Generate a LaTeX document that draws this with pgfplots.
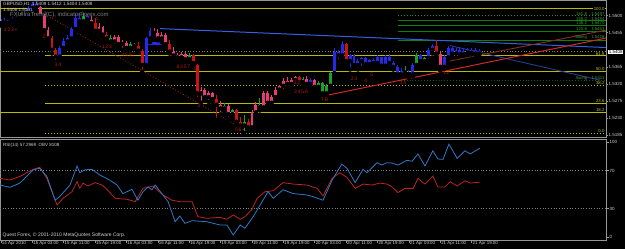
\documentclass[border=0pt]{standalone}
\usepackage{pgfplots}
\pgfplotsset{compat=1.18}
\usepackage{pgfplotstable}
\usepackage{fontspec}
\setmainfont{Liberation Sans}
\definecolor{frame}{RGB}{150,150,150}
\definecolor{fib}{RGB}{185,185,10}
\definecolor{fgreen}{RGB}{10,130,10}
\definecolor{cblue}{RGB}{40,40,235}
\definecolor{cgreen}{RGB}{30,160,40}
\definecolor{cpink}{RGB}{230,60,120}
\definecolor{cred}{RGB}{200,20,20}
\definecolor{tblue}{RGB}{55,95,225}
\definecolor{tnavy}{RGB}{40,60,150}
\definecolor{tred}{RGB}{210,40,40}
\definecolor{tbrown}{RGB}{130,50,30}
\definecolor{rsiblue}{RGB}{50,120,200}
\definecolor{rsired}{RGB}{190,35,35}
\definecolor{txt}{RGB}{210,210,210}
\definecolor{lbl}{RGB}{185,25,25}
\newcommand\tf[1]{\fontsize{#1}{#1}\selectfont}

% candle index, open, high, low, close (price x 10^4), colour class
\pgfplotstableread{
i o h l c k
0 15480 15492 15474 15486 1
1 15486 15494 15478 15482 1
2 15482 15490 15476 15488 1
3 15488 15496 15482 15492 1
4 15492 15500 15485 15497 1
5 15497 15508 15490 15503 2
6 15503 15512 15495 15508 1
7 15508 15525 15502 15520 1
8 15520 15536 15512 15530 1
9 15530 15540 15515 15522 1
10 15522 15526 15495 15500 3
11 15500 15505 15455 15462 3
12 15462 15470 15430 15440 3
13 15440 15446 15400 15410 4
14 15410 15415 15378 15392 4
15 15392 15420 15385 15415 1
16 15415 15440 15408 15432 1
17 15432 15448 15420 15440 1
18 15440 15470 15435 15465 1
19 15465 15505 15458 15495 1
20 15495 15507 15478 15485 1
21 15485 15508 15480 15500 2
22 15500 15505 15482 15490 1
23 15490 15500 15476 15480 3
24 15480 15494 15455 15460 4
25 15460 15480 15455 15470 3
26 15470 15472 15445 15450 3
27 15450 15458 15432 15440 4
28 15440 15448 15425 15432 2
29 15432 15450 15420 15445 3
30 15445 15448 15418 15425 3
31 15425 15436 15410 15428 3
32 15428 15432 15405 15415 3
33 15415 15430 15410 15425 2
34 15425 15428 15412 15420 3
35 15420 15430 15405 15408 4
36 15408 15412 15352 15370 4
37 15370 15445 15365 15440 1
38 15440 15467 15430 15460 1
39 15460 15468 15448 15455 3
40 15455 15465 15435 15440 3
41 15440 15458 15430 15450 3
42 15450 15455 15418 15425 3
43 15425 15435 15400 15405 4
44 15405 15418 15388 15395 3
45 15395 15402 15380 15390 3
46 15390 15405 15385 15400 3
47 15400 15404 15378 15385 3
48 15385 15402 15383 15395 2
49 15395 15398 15370 15375 4
50 15370 15372 15280 15295 4
51 15295 15312 15270 15305 3
52 15305 15310 15275 15285 3
53 15285 15300 15272 15295 3
54 15295 15298 15270 15280 3
55 15280 15290 15225 15265 4
56 15265 15275 15240 15255 3
57 15255 15270 15245 15262 2
58 15262 15268 15228 15240 3
59 15240 15255 15232 15250 2
60 15250 15255 15210 15220 4
61 15220 15232 15200 15210 4
62 15210 15238 15190 15220 2
63 15220 15228 15195 15205 4
64 15205 15250 15200 15245 3
65 15245 15272 15240 15265 3
66 15265 15282 15250 15258 2
67 15258 15300 15255 15295 3
68 15295 15302 15265 15270 3
69 15270 15290 15258 15285 3
70 15285 15312 15278 15305 3
71 15305 15318 15298 15315 3
72 15315 15335 15302 15328 3
73 15328 15338 15310 15320 3
74 15320 15335 15318 15330 3
75 15330 15342 15322 15338 3
76 15338 15340 15320 15325 4
77 15325 15338 15318 15332 2
78 15332 15340 15315 15320 3
79 15320 15336 15312 15330 1
80 15330 15332 15305 15312 3
81 15312 15328 15308 15322 2
82 15322 15326 15285 15295 2
83 15295 15320 15290 15315 2
84 15315 15352 15305 15348 2
85 15348 15415 15345 15405 1
86 15405 15410 15380 15395 1
87 15395 15432 15388 15425 1
88 15425 15428 15372 15380 4
89 15380 15400 15358 15395 1
90 15395 15398 15360 15370 1
91 15370 15385 15358 15380 1
92 15380 15392 15362 15388 1
93 15388 15392 15365 15372 1
94 15372 15385 15365 15382 1
95 15382 15388 15368 15375 1
96 15375 15395 15370 15390 1
97 15390 15392 15362 15368 1
98 15368 15395 15365 15390 1
99 15390 15398 15362 15375 1
100 15375 15380 15358 15365 1
101 15365 15370 15338 15345 1
102 15345 15362 15340 15355 1
103 15355 15368 15345 15350 2
104 15350 15356 15336 15345 1
105 15345 15375 15340 15370 1
106 15370 15402 15365 15395 2
107 15395 15400 15375 15380 1
108 15380 15392 15372 15388 2
109 15388 15415 15380 15410 1
110 15410 15425 15400 15420 1
111 15420 15436 15395 15400 4
112 15400 15405 15355 15365 3
113 15365 15395 15360 15390 1
114 15390 15420 15382 15415 1
115 15415 15418 15395 15400 1
116 15400 15415 15390 15410 1
117 15410 15418 15395 15398 1
118 15398 15412 15395 15408 1
119 15408 15415 15396 15402 1
120 15402 15414 15398 15410 1
121 15410 15415 15396 15400 1
122 15400 15412 15398 15408 1
}\candles

\pgfplotstableread{
i v
-0.25 55
2.3 52.6
4.8 57
8.2 71
9.9 72.6
11.7 64
13.8 39
15.0 43
17.6 55
19.4 75
20.1 68
21.4 71
23.2 71.5
25.2 65.6
27.8 60
29.6 55
31.1 46
33.4 50.5
34.9 39
36.2 48
37.5 53
38.5 50
39.3 55
41.3 44.5
42.6 37.5
44.4 16.4
45.6 22.4
46.9 14.7
48.7 17.5
52.5 16.4
55.8 13
57.6 13
59.2 2.4
61.0 13
62.2 9.5
64.3 21.7
66.8 39
68.1 48
69.4 41
71.9 50
74.5 46
78.0 44.5
79.6 42.7
82.1 39
84.4 60
86.9 77
88.2 72.6
90.3 57.5
92.3 71.5
93.3 68
95.9 78.5
97.1 76
98.4 78.5
99.7 78
101.2 76
103.5 81
104.8 80
106.3 87.7
108.1 75
110.1 91
111.4 82.4
112.7 82
114.2 98
116.3 83
118.3 91
119.6 87.7
122.1 93.7
}\obvdata

\pgfplotstableread{
i v
-0.25 62
2.3 60.3
4.8 64
8.2 71.5
9.9 73.6
11.7 62
14.3 34
15.8 41
18.1 48
19.4 58.5
20.1 51.5
20.9 57
22.2 54
24.0 57.5
25.8 55
27.0 50.5
29.1 41
32.1 40
34.2 37.5
36.2 51.5
37.5 52.6
38.8 54
39.8 50
41.3 44.5
43.6 39
45.6 37.5
48.7 37.5
50.2 21.7
52.5 20
55.8 21
57.6 19
59.2 23.5
61.0 19
62.2 21.7
64.0 29.5
65.3 41
67.3 48
69.4 49
71.9 57.5
74.5 56
78.0 55
80.6 51.5
82.1 43.5
84.4 62
86.4 68
88.2 63
90.3 51.5
92.3 56
94.6 55
96.6 57
98.4 56
99.7 53
101.2 47
103.0 51.5
105.1 51.5
106.3 62
108.1 56
110.1 64.5
111.4 53
113.2 53
114.5 58.5
116.3 54
118.3 59.5
119.6 57
122.1 58
}\rsidata

\pgfplotsset{
  wick/.style={only marks, mark=none, forget plot,
    error bars/.cd, y dir=plus, y explicit, error mark=none,
    error bar style={line width=0.9pt, color=#1}},
  body/.style={only marks, mark=none, forget plot,
    error bars/.cd, y dir=plus, y explicit, error mark=none,
    error bar style={line width=2.9pt, color=#1}},
}
\newcommand\candleset[2]{%
  \addplot[wick=#2] table[x=i, y expr={\thisrow{k}==#1 ? \thisrow{l} : nan},
     y error plus expr={\thisrow{h}-\thisrow{l}}]{\candles};
  \addplot[body=#2] table[x=i, y expr={\thisrow{k}==#1 ? min(\thisrow{o},\thisrow{c}) : nan},
     y error plus expr={max(abs(\thisrow{c}-\thisrow{o}),1.5)}]{\candles};
}

\begin{document}
\begin{tikzpicture}
\useasboundingbox (0,0) rectangle (625pt,249pt);
\fill[black] (0,0) rectangle (625pt,249pt);

% ---------------- price window ----------------
\begin{axis}[
  at={(0pt,111.5pt)}, anchor=south west, scale only axis,
  width=606pt, height=137.5pt,
  xmin=-0.25, xmax=154.25, ymin=15178.5, ymax=15541.5,
  axis line style={frame, line width=0.8pt},
  xtick=\empty,
  ytick={15185,15230,15275,15320,15365,15455,15500},
  yticklabels={1.5185,1.5230,1.5275,1.5320,1.5365,1.5455,1.5500},
  ytick pos=right, yticklabel pos=right,
  tick align=outside, major tick length=2pt,
  tick style={frame, line width=0.6pt},
  yticklabel style={font=\tf{4.5}, text=txt, anchor=west, inner sep=0pt, xshift=0.5pt},
  clip mode=individual,
]
% current price line
\addplot[gray, dotted, line width=0.8pt] coordinates {(-0.25,15405) (154.25,15405)};
% fibonacci retracement levels
\addplot[fib, line width=1pt] coordinates {(-0.25,15519) (154.25,15519)};
\addplot[fib, line width=1pt] coordinates {(11.2,15394) (154.25,15394)};
\addplot[fib, line width=0.8pt] coordinates {(-0.25,15353) (11.2,15353)};
\addplot[fib, line width=1.8pt] coordinates {(11.2,15353) (154.25,15353)};
\addplot[fib, dotted, line width=1pt] coordinates {(11.2,15316) (154.25,15316)};
\addplot[fib, line width=1pt] coordinates {(11.2,15268) (154.25,15268)};
\addplot[fib, line width=1pt] coordinates {(-0.25,15245) (154.25,15245)};
\addplot[fib, dotted, line width=1pt] coordinates {(11.2,15190) (154.25,15190)};
% projection levels
\addplot[fgreen!60!gray, dotted, line width=0.9pt] coordinates {(101.2,15500) (154.25,15500)};
\addplot[fgreen, line width=0.8pt] coordinates {(101.2,15487) (154.25,15487)};
\addplot[fgreen, line width=0.8pt] coordinates {(101.2,15474) (154.25,15474)};
\addplot[fgreen, line width=0.8pt] coordinates {(101.2,15458) (154.25,15458)};
\addplot[fgreen, line width=0.8pt] coordinates {(101.2,15435) (154.25,15435)};
\addplot[fgreen!70!black, dotted, line width=0.9pt] coordinates {(101.2,15328) (154.25,15328)};
% trend lines
\addplot[tred!70!black, dotted, line width=0.9pt] coordinates {(11.2,15504) (63,15193)};
\addplot[tblue, line width=1pt] coordinates {(40.5,15466) (154.25,15416)};
\addplot[tnavy, line width=0.9pt] coordinates {(114.5,15421) (152.7,15330)};
\addplot[tbrown, line width=0.9pt] coordinates {(113.2,15378) (154.25,15462)};
\addplot[tred, line width=1pt] coordinates {(83.6,15291) (154.25,15441)};
\addplot[cblue, line width=2.8pt] coordinates {(37.5,15427) (41,15427)};
% candles
\candleset{1}{cblue}
\candleset{2}{cgreen}
\candleset{3}{cpink}
\candleset{4}{cred}
% indicator digits
\foreach \xx/\yy/\tt in {2.5/15462/1\,2\,3\,+, 11/15445/2, 14.5/15370/3\,4, 24.5/15490/P, 27/15418/1\,2\,3, 32.5/15396/4\,5\,6\,7, 46.5/15366/8\,3\,5\,7, 49.5/15360/1, 50.5/15262/2, 60.5/15200/5\,6, 76.5/15298/3\,4\,5\,6, 75.5/15322/3\,2, 82.5/15277/T\,B, 88/15400/P, 90/15333/2\,3, 93/15328/4, 94.5/15345/5, 102.5/15322/3\,4, 113.5/15350/1\,2, 111/15410/+}{
  \edef\temp{\noexpand\node[font=\noexpand\tf{5}, text=lbl, inner sep=0pt] at (axis cs:\xx,\yy) {\tt};}\temp
}
% texts
\node[anchor=north west, font=\tf{4.6}, text=txt, inner sep=0pt] at (rel axis cs:0,1) [xshift=3pt, yshift=-2.5pt] {GBPUSD,H1\ \ 1.5409 1.5412 1.5404 1.5408};
\node[anchor=north west, font=\tf{4.6}, text=txt, inner sep=0pt] at (rel axis cs:0,1) [xshift=3pt, yshift=-8pt] {1.5408 1.5101};
\node[anchor=north west, font=\tf{6}, text=gray, inner sep=0pt] at (rel axis cs:0,1) [xshift=10pt, yshift=-12pt] {FXUltraTrend(C), indicatorForex.com};
\node[anchor=west, fill=white, text=black, font=\tf{4.5}, inner sep=0.6pt] at (axis cs:154.25,15405) [xshift=2pt] {1.5408};
\foreach \lv/\lb in {15394/61.8,15353/50.0,15316/38.2,15268/23.6,15245/18.2,15190/0.0}{
  \edef\temp{\noexpand\node[anchor=south east, font=\noexpand\tf{4.3}, text=fib!90!white, inner sep=0.4pt] at (axis cs:154,\lv) {\lb};}\temp
}
\node[anchor=east, font=\tf{4.3}, text=fib!90!white, fill=black, inner sep=0.3pt] at (axis cs:154,15519) {100.0};
\foreach \lv/\la/\lb in {15500/161.8/1.5497,15487/150.0/1.5484,15474/138.2/1.5470,15458/123.6/1.5453,15435/Swing/1.5426,15328/Swing/1.5311}{
  \edef\temp{\noexpand\node[anchor=south east, font=\noexpand\tf{4.3}, text=fgreen!80!white, inner sep=0.4pt] at (axis cs:154,\lv) {\la\noexpand\quad\lb};}\temp
}
\end{axis}

% ---------------- indicator window ----------------
\begin{axis}[
  at={(0pt,9pt)}, anchor=south west, scale only axis,
  width=606pt, height=100.5pt,
  xmin=-0.25, xmax=154.25, ymin=-2.84, ymax=102.9,
  axis line style={frame, line width=0.8pt},
  xtick={0,8,...,120},
  xticklabels={14 Apr 2010,15 Apr 03:00,15 Apr 11:00,15 Apr 19:00,16 Apr 03:00,16 Apr 11:00,16 Apr 19:00,19 Apr 03:00,19 Apr 11:00,19 Apr 19:00,20 Apr 03:00,20 Apr 11:00,20 Apr 19:00,21 Apr 03:00,21 Apr 11:00,21 Apr 19:00},
  xtick pos=bottom, xticklabel pos=bottom,
  ytick={0,30,70,100},
  ytick pos=right, yticklabel pos=right,
  tick align=outside, major tick length=3pt,
  tick style={frame, line width=0.6pt},
  xticklabel style={font=\tf{4.4}, text=txt, anchor=north west, inner sep=0pt, xshift=0.8pt, yshift=2pt},
  yticklabel style={font=\tf{4.5}, text=txt, anchor=west, inner sep=0pt, xshift=0.5pt},
  yticklabels={0,30,70,100},
  clip mode=individual,
]
\addplot[gray, dotted, line width=0.7pt] coordinates {(-0.25,70) (154.25,70)};
\addplot[gray, dotted, line width=0.7pt] coordinates {(-0.25,30) (154.25,30)};
\addplot[rsired, line width=0.8pt] table[x=i, y=v]{\rsidata};
\addplot[rsiblue, line width=0.8pt] table[x=i, y=v]{\obvdata};
\node[anchor=north west, font=\tf{4.5}, text=txt, inner sep=0pt] at (rel axis cs:0,1) [xshift=3pt, yshift=-4pt] {RSI(14) 57.2969\ \ OBV 8108};
\node[anchor=south west, font=\tf{5}, text=txt, inner sep=0pt] at (rel axis cs:0,0) [xshift=2.5pt, yshift=2.5pt] {Quest Forex, © 2001-2010 MetaQuotes Software Corp.};
\end{axis}
\end{tikzpicture}
\end{document}
